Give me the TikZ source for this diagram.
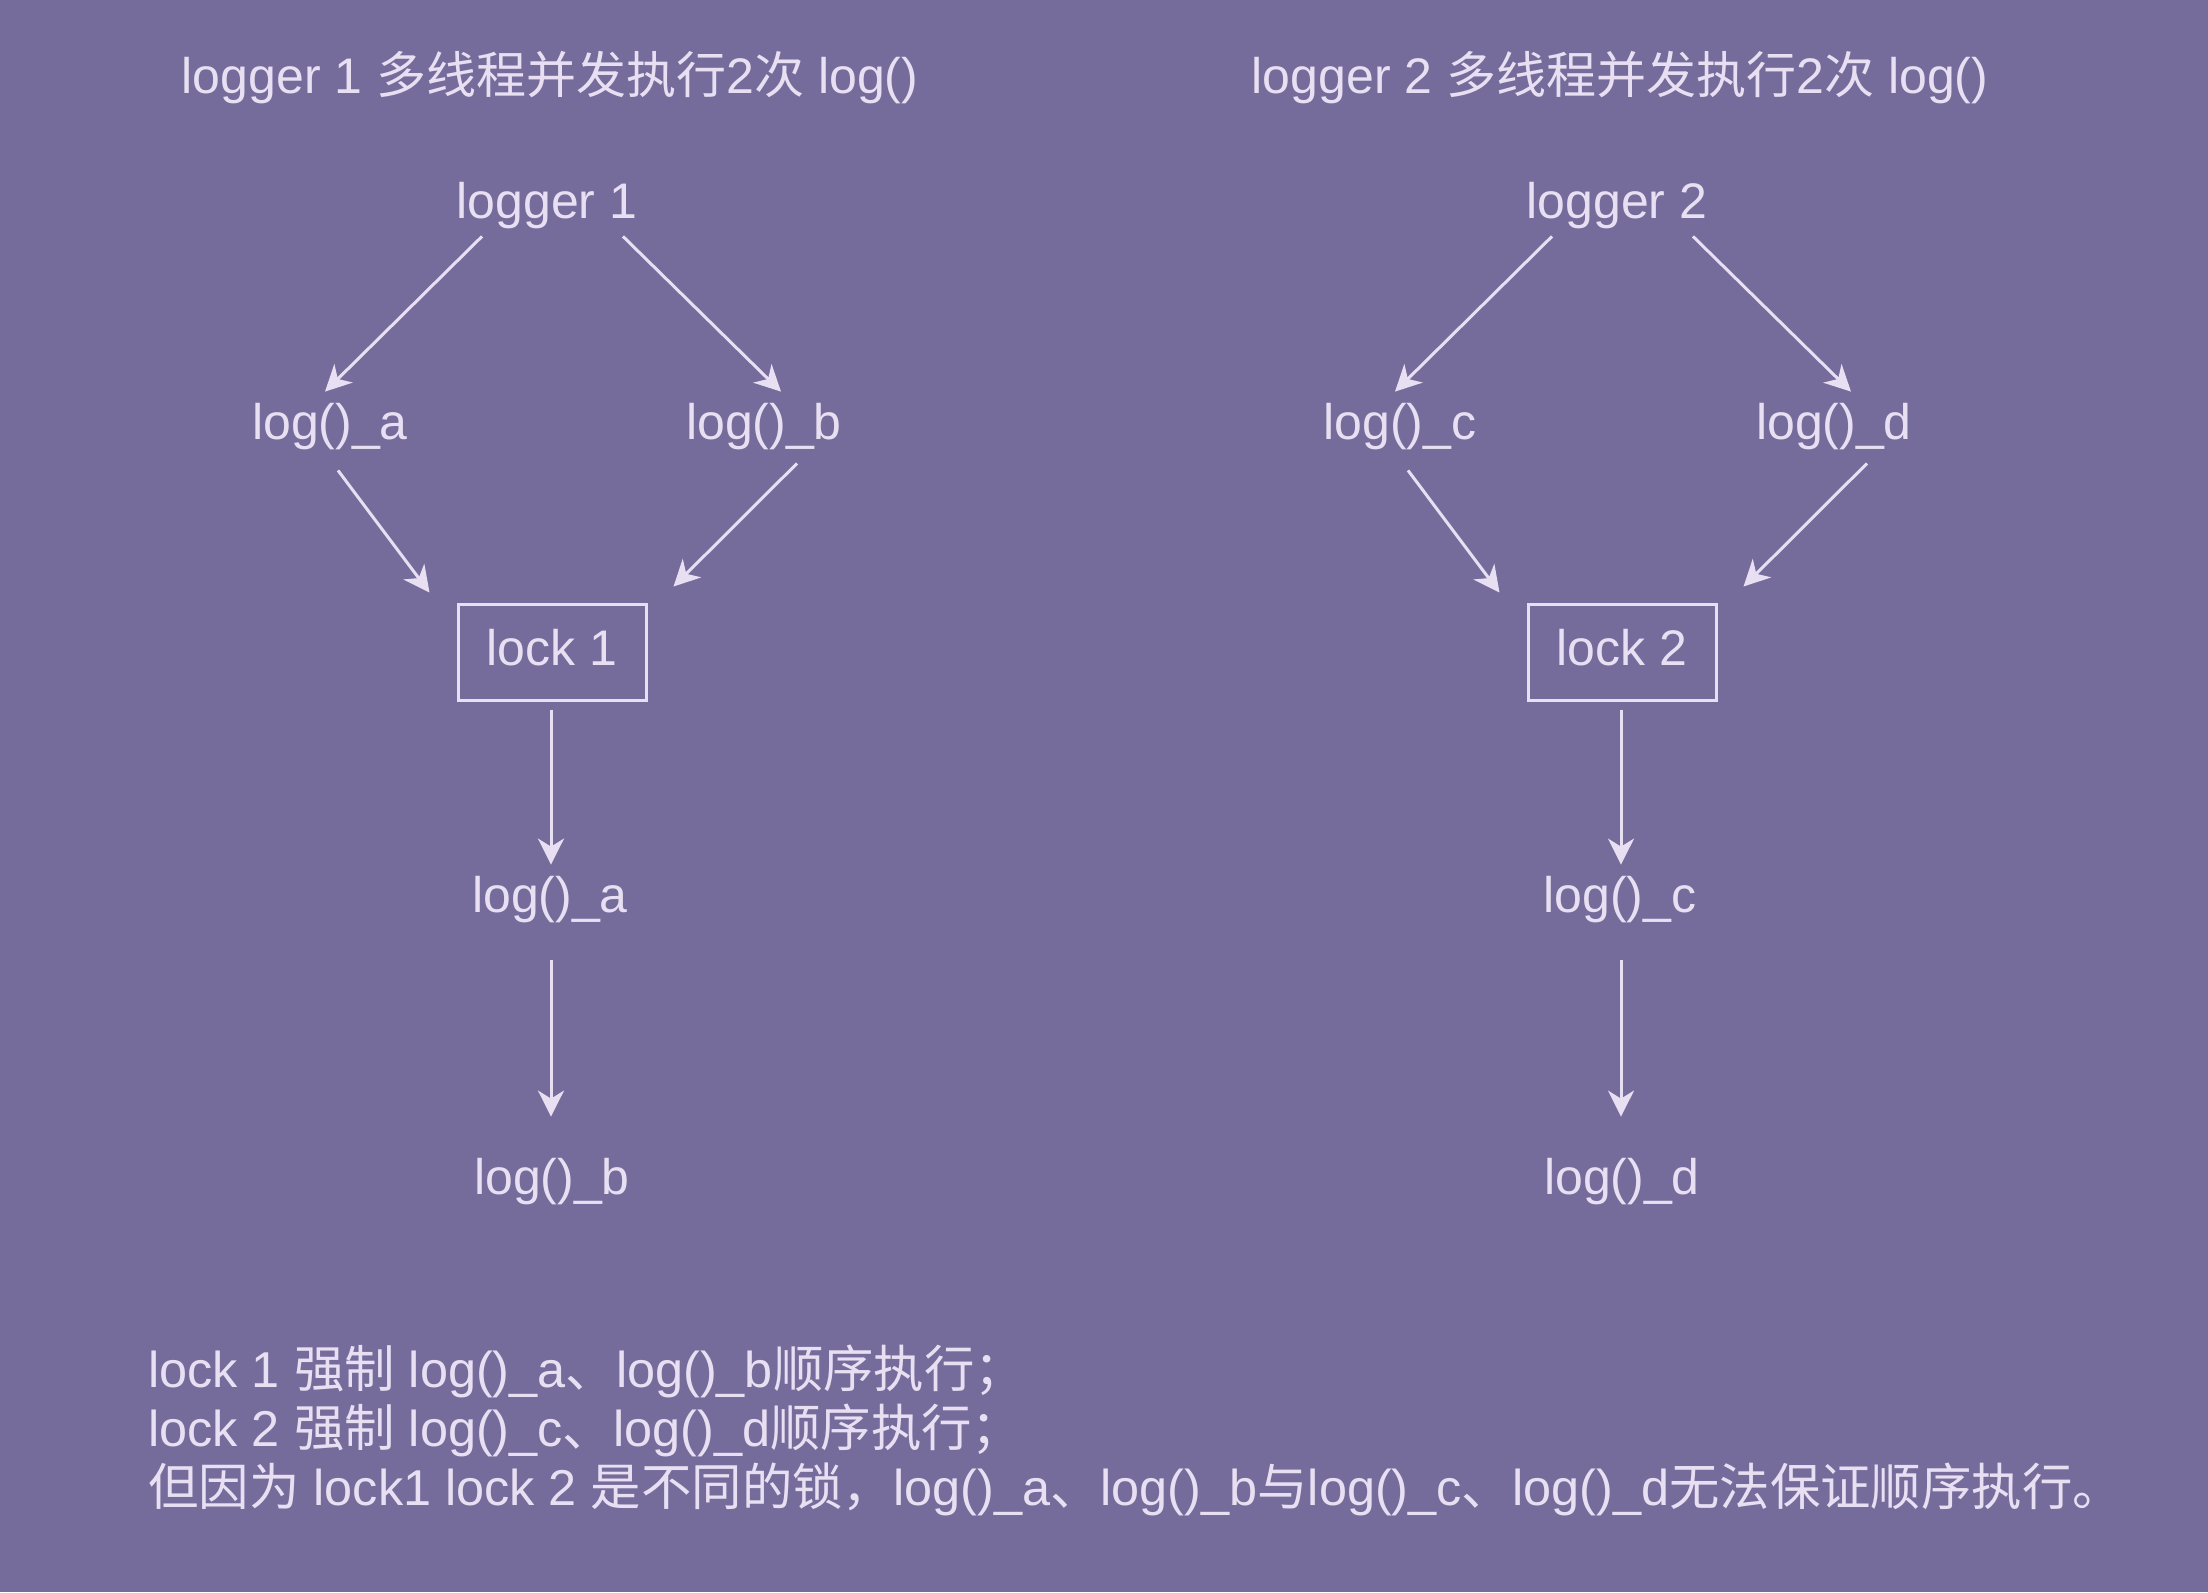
\documentclass[tikz,border=0pt]{standalone}
\usepackage{fontspec}
\setmainfont{Liberation Sans}
\newfontfamily\cjk{Noto Sans CJK SC}
\usetikzlibrary{arrows.meta}
\definecolor{bg}{RGB}{118,108,156}
\definecolor{fg}{RGB}{232,224,242}
\begin{document}
\begin{tikzpicture}[x=0.5pt,y=-0.5pt,
  lbl/.style={text=fg, font=\fontsize{25pt}{30pt}\selectfont, inner sep=0pt, text height=18pt, text depth=5pt, anchor=base},
  lockbox/.style={draw=fg, line width=1.5pt, text=fg, font=\fontsize{25pt}{30pt}\selectfont, minimum width=94pt, minimum height=48pt, inner sep=0pt, text height=18pt, text depth=5pt},
  note/.style={text=fg, font=\fontsize{25.2pt}{30pt}\selectfont, inner sep=0pt, anchor=base west},
  arr/.style={draw=fg, line width=1.5pt, -{Stealth[length=13pt,width=13pt,inset=4pt]}}]
\fill[bg] (0,0) rectangle (2208,1592);
\useasboundingbox (0,0) rectangle (2208,1592);
% titles
\node[lbl] (t1) at (550,93) {logger 1 {\cjk 多线程并发执行}2{\cjk 次} log()};
\node[lbl] (t2) at (1620,93) {logger 2 {\cjk 多线程并发执行}2{\cjk 次} log()};
% left diagram
\node[lbl] (l1) at (547,218) {logger 1};
\node[lbl] (la) at (330,439) {log()\_a};
\node[lbl] (lb) at (764,439) {log()\_b};
\node[lockbox] (k1) at (552,652) {lock 1};
\node[lbl] (la2) at (550,912) {log()\_a};
\node[lbl] (lb2) at (552,1194) {log()\_b};
% right diagram
\node[lbl] (l2) at (1617,218) {logger 2};
\node[lbl] (lc) at (1400,439) {log()\_c};
\node[lbl] (ld) at (1834,439) {log()\_d};
\node[lockbox] (k2) at (1622,652) {lock 2};
\node[lbl] (lc2) at (1620,912) {log()\_c};
\node[lbl] (ld2) at (1622,1194) {log()\_d};
% arrows left
\draw[arr] ([shift={(-65,8)}]l1.south) -- ([shift={(-5,-11)}]la.north);
\draw[arr] ([shift={(76,8)}]l1.south) -- ([shift={(17,-11)}]lb.north);
\draw[arr] ([shift={(8,21)}]la.south) -- ([shift={(-27,-10)}]k1.north west);
\draw[arr] ([shift={(33,14)}]lb.south) -- ([shift={(26,-16)}]k1.north east);
\draw[arr] ([shift={(-1,8)}]k1.south) -- ([shift={(1,-11)}]la2.north);
\draw[arr] ([shift={(1,38)}]la2.south) -- ([shift={(-1,-41)}]lb2.north);
% arrows right
\draw[arr] ([shift={(-65,8)}]l2.south) -- ([shift={(-5,-11)}]lc.north);
\draw[arr] ([shift={(76,8)}]l2.south) -- ([shift={(17,-11)}]ld.north);
\draw[arr] ([shift={(8,21)}]lc.south) -- ([shift={(-27,-10)}]k2.north west);
\draw[arr] ([shift={(33,14)}]ld.south) -- ([shift={(26,-16)}]k2.north east);
\draw[arr] ([shift={(-1,8)}]k2.south) -- ([shift={(1,-11)}]lc2.north);
\draw[arr] ([shift={(1,38)}]lc2.south) -- ([shift={(-1,-41)}]ld2.north);
% notes
\node[note] (n1) at (148,1387) {lock 1 {\cjk 强制} log()\_a{\cjk 、}log()\_b{\cjk 顺序执行；}};
\node[note] (n2) at (148,1446) {lock 2 {\cjk 强制} log()\_c{\cjk 、}log()\_d{\cjk 顺序执行；}};
\node[note] (n3) at (148,1505) {{\cjk 但因为} lock1 lock 2 {\cjk 是不同的锁，}log()\_a{\cjk 、}log()\_b{\cjk 与}log()\_c{\cjk 、}log()\_d{\cjk 无法保证顺序执行。}};
\end{tikzpicture}
\end{document}
